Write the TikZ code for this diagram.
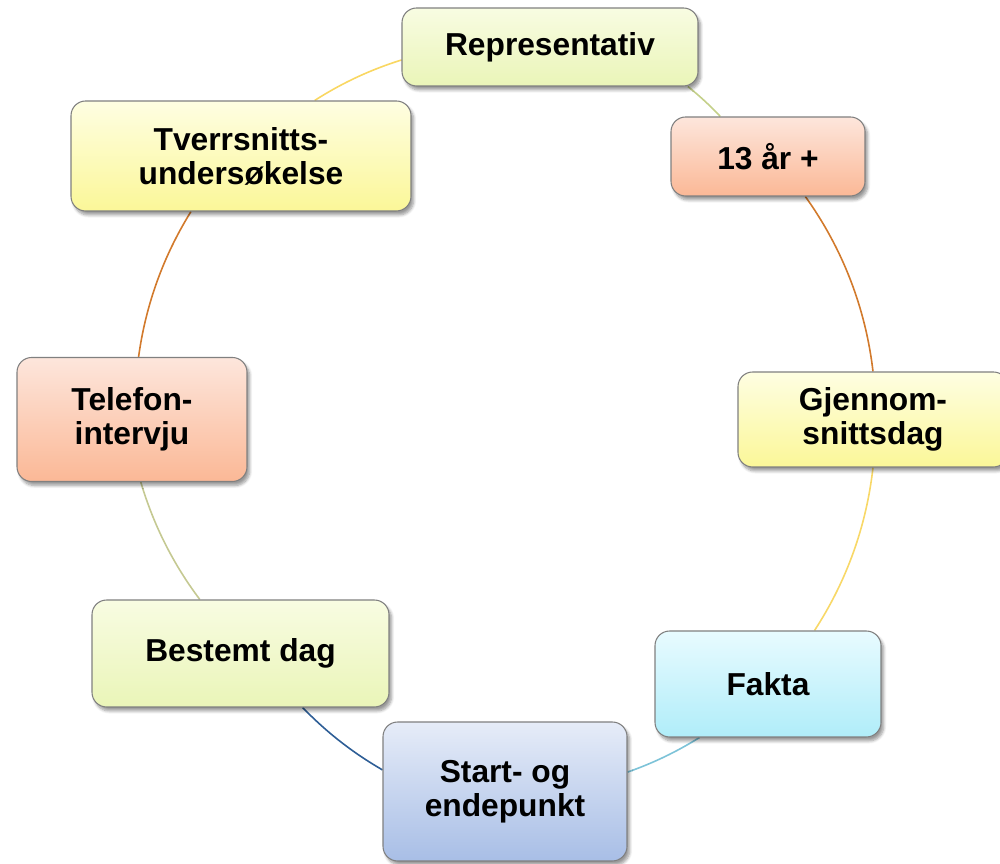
\documentclass[tikz,border=0pt]{standalone}
\usepackage{fontspec}
\setmainfont{Liberation Sans}
\usetikzlibrary{shadows.blur,backgrounds}
\definecolor{ygTop}{HTML}{F8FCE2}
\definecolor{ygBot}{HTML}{EAF5B8}
\definecolor{saTop}{HTML}{FDE6DC}
\definecolor{saBot}{HTML}{FBB896}
\definecolor{yeTop}{HTML}{FEFEE2}
\definecolor{yeBot}{HTML}{FBF798}
\definecolor{cyTop}{HTML}{E8FBFF}
\definecolor{cyBot}{HTML}{B0EDF9}
\definecolor{blTop}{HTML}{E6ECF8}
\definecolor{blBot}{HTML}{A8BEE6}
\definecolor{cOlive}{HTML}{C4D08A}
\definecolor{cOrange}{HTML}{D27A2C}
\definecolor{cYellow}{HTML}{F8D868}
\definecolor{cCyan}{HTML}{7DC3D8}
\definecolor{cBlue}{HTML}{2E5E96}
\definecolor{cOlive2}{HTML}{C5C992}
\definecolor{cYellow2}{HTML}{F9D762}
\definecolor{borderGray}{HTML}{808080}
\tikzset{
  box/.style={draw=borderGray, line width=0.8pt, rounded corners=11pt,
    align=center, inner sep=0pt,
    font=\fontsize{23.8}{25.5}\selectfont\bfseries,
    blur shadow={shadow xshift=2pt, shadow yshift=-3pt, shadow opacity=40, shadow blur steps=6}},
  sz/.style 2 args={minimum width=#1*0.75pt, minimum height=#2*0.75pt},
  yg/.style={top color=ygTop, bottom color=ygBot},
  sa/.style={top color=saTop, bottom color=saBot},
  ye/.style={top color=yeTop, bottom color=yeBot},
  cy/.style={top color=cyTop, bottom color=cyBot},
  bl/.style={top color=blTop, bottom color=blBot},
  link/.style={line width=1.2pt, looseness=0.87}
}
\begin{document}
\begin{tikzpicture}[x=0.75pt,y=0.75pt]
\useasboundingbox (0,0) rectangle (1000,864);
\node[box, yg, sz={296}{78}]  (rep)     at (550,817)   {Representativ};
\node[box, sa, sz={194}{79}]  (thirteen) at (768,707.5) {13 år +};
\node[box, ye, sz={270}{95}]  (gjen)    at (873,444.5) {Gjennom-\\snittsdag};
\node[box, cy, sz={226}{106}] (fakta)   at (768,180)   {Fakta};
\node[box, bl, sz={244}{139}] (start)   at (505,72.5)  {Start- og\\endepunkt};
\node[box, yg, sz={297}{107}] (bestemt) at (240.5,210.5) {Bestemt dag};
\node[box, sa, sz={230}{124}] (tel)     at (132,444.5) {Telefon-\\intervju};
\node[box, ye, sz={340}{110}] (tverr)   at (241,708)   {Tverrsnitts-\\undersøkelse};
\begin{scope}[on background layer]
\draw[link, cOlive]   (rep.-16.8) to[bend left=4] (thirteen.140);
\draw[link, cOrange]  (thirteen.-47.6) to[bend left=14.5] (gjen.north);
\draw[link, cYellow]  (gjen.south) to[bend left=13.3] (fakta.49);
\draw[link, cCyan]    (fakta.218.3) to[bend left=6.3] (start.9.2);
\draw[link, cBlue]    (start.170.9) to[bend left=8] (bestemt.-41.5);
\draw[link, cOlive2]  (bestemt.127.1) to[bend left=10.2] (tel.-82.6);
\draw[link, cOrange]  (tel.84.4) to[bend left=12] (tverr.228.9);
\draw[link, cYellow2] (tverr.37.8) to[bend left=7.6] (rep.185);
\end{scope}
\end{tikzpicture}
\end{document}
